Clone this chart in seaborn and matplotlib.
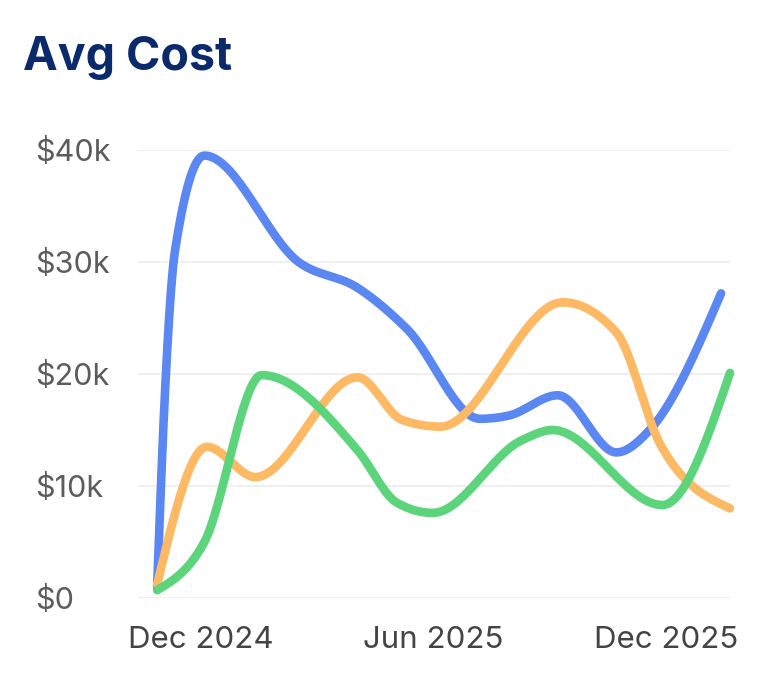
import numpy as np
import pandas as pd
import matplotlib
matplotlib.use("Agg")
import matplotlib.pyplot as plt
import matplotlib.dates as mdates
import seaborn as sns

# ---- data (values in $k) ----
blue_dates = ["2024-10-28", "2024-11-03", "2024-11-11", "2024-12-04", "2025-02-17",
              "2025-04-03", "2025-05-12", "2025-07-08", "2025-07-31", "2025-09-07",
              "2025-10-23", "2025-11-18", "2026-01-13"]
blue_vals = [1.0, 18.0, 31.0, 39.5, 29.9, 27.7, 24.0, 16.0, 16.3, 18.1, 13.0, 15.0, 27.2]

orange_dates = ["2024-10-28", "2024-12-06", "2025-01-13", "2025-04-03", "2025-05-08",
                "2025-06-07", "2025-09-11", "2025-10-23", "2025-11-26", "2026-01-20"]
orange_vals = [1.2, 13.5, 10.8, 19.7, 15.9, 15.3, 26.4, 23.7, 13.8, 8.0]

green_dates = ["2024-10-28", "2024-12-04", "2025-01-18", "2025-04-03", "2025-05-04",
               "2025-06-01", "2025-08-10", "2025-09-03", "2025-11-28", "2026-01-20"]
green_vals = [0.7, 5.0, 19.9, 13.2, 8.5, 7.6, 14.1, 15.0, 8.3, 20.1]

y_ticks = [0, 10, 20, 30, 40]
y_labels = ["$0", "$10k", "$20k", "$30k", "$40k"]
x_ticks = ["2024-12-01", "2025-06-01", "2025-12-01"]
x_labels = ["Dec 2024", "Jun 2025", "Dec 2025"]
title = "Avg Cost"

colors = {"blue": "#5b87f3", "orange": "#fdb964", "green": "#5cd47c"}


def monotone_x(x, y, n=60):
    """d3 curveMonotoneX style rendering of a series."""
    x = np.asarray(x, float)
    y = np.asarray(y, float)
    h = np.diff(x)
    s = np.diff(y) / h
    m = len(x)
    t = np.zeros(m)
    sgn = lambda v: -1.0 if v < 0 else 1.0
    for i in range(1, m - 1):
        s0, s1, h0, h1 = s[i - 1], s[i], h[i - 1], h[i]
        p = (s0 * h1 + s1 * h0) / (h0 + h1)
        t[i] = (sgn(s0) + sgn(s1)) * min(abs(s0), abs(s1), 0.5 * abs(p))
    t[0] = (3 * s[0] - t[1]) / 2
    t[-1] = (3 * s[-1] - t[-2]) / 2
    xs, ys = [], []
    for i in range(m - 1):
        u = np.linspace(0, 1, n, endpoint=(i == m - 2))
        h00 = 2 * u**3 - 3 * u**2 + 1
        h10 = u**3 - 2 * u**2 + u
        h01 = -2 * u**3 + 3 * u**2
        h11 = u**3 - u**2
        xs.append(x[i] + u * h[i])
        ys.append(h00 * y[i] + h10 * h[i] * t[i] + h01 * y[i + 1] + h11 * h[i] * t[i + 1])
    return np.concatenate(xs), np.concatenate(ys)


sns.set_theme(style="white")
plt.rcParams["font.family"] = ["Inter", "DejaVu Sans"]

W, H = 763, 693
fig = plt.figure(figsize=(W / 100, H / 100), dpi=100)
ax = fig.add_axes([138 / W, 1 - 598 / H, (730 - 138) / W, (598 - 150) / H])

series = [
    ("blue", blue_dates, blue_vals),
    ("orange", orange_dates, orange_vals),
    ("green", green_dates, green_vals),
]
for name, dts, vals in series:
    xnum = mdates.date2num(pd.to_datetime(dts))
    xs, ys = monotone_x(xnum, vals)
    df = pd.DataFrame({"date": mdates.num2date(xs), "value": ys})
    df["date"] = pd.to_datetime(df["date"]).dt.tz_localize(None)
    sns.lineplot(data=df, x="date", y="value", ax=ax, color=colors[name],
                 linewidth=6.2, sort=False, estimator=None,
                 solid_capstyle="round", solid_joinstyle="round", clip_on=False)

ax.set_ylim(0, 40)
ax.set_xlim(pd.Timestamp("2024-10-13"), pd.Timestamp("2026-01-20"))
ax.set_yticks(y_ticks)
ax.set_yticklabels(y_labels, ha="left", fontsize=22, color="#5c5c5c")
ax.set_xticks(pd.to_datetime(x_ticks))
ax.set_xticklabels(x_labels, fontsize=22.5, color="#444444")
ax.tick_params(axis="y", length=0, pad=74)
ax.tick_params(axis="x", length=0, pad=20.5)
ax.grid(axis="y", color="#ececec", linewidth=1.2)
ax.grid(axis="x", visible=False)
ax.set_axisbelow(True)
for sp in ax.spines.values():
    sp.set_visible(False)
ax.set_xlabel("")
ax.set_ylabel("")

fig.text(23 / W, 1 - 70 / H, title, fontsize=33.5, fontweight="bold",
         color="#0b2a6c", ha="left", va="baseline")

fig.savefig("out.png", dpi=100, facecolor="white")
